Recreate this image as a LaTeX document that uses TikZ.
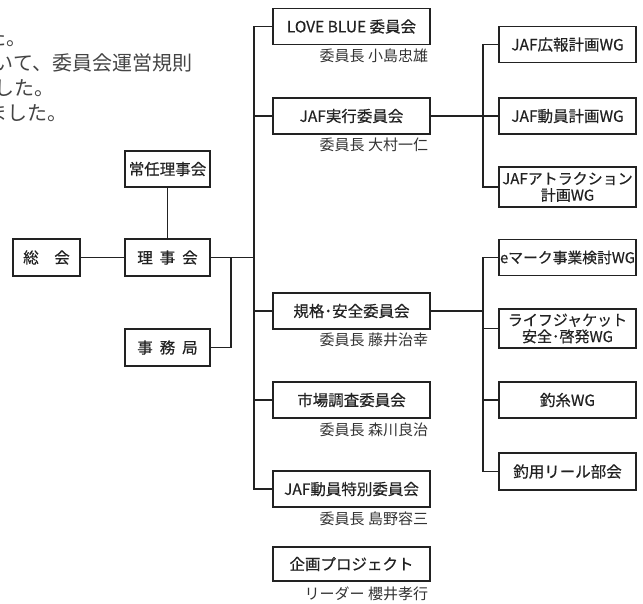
\documentclass[tikz,border=0pt]{standalone}
\usepackage{fontspec}
\setmainfont{Noto Sans CJK JP}
\newfontfamily\boxfont{Noto Sans CJK JP}[FakeBold=0.5]
\definecolor{ink}{HTML}{222222}
\definecolor{sub}{HTML}{333333}
\definecolor{para}{HTML}{444444}
\begin{document}
\begin{tikzpicture}[x=1pt,y=-1pt,line width=1.9pt,draw=ink,
  box/.style={draw,line width=1.9pt,minimum height=36pt,inner sep=0pt,align=center,
    text=ink,font=\boxfont\fontsize{15.5}{17}\selectfont},
  small/.style={box,minimum width=85pt},
  mid/.style={box,minimum width=157pt},
  wg/.style={box,minimum width=137pt},
  chief/.style={anchor=east,inner sep=0pt,text=sub,font=\fontsize{15}{17}\selectfont},
  note/.style={anchor=base east,inner sep=0pt,text=para,font=\fontsize{20}{24}\selectfont}]
\useasboundingbox (0,0) rectangle (643,603);
%text
\node[note] (n1) at (27,45) {た。};
\node[note] (n2) at (193,70) {いて、委員会運営規則};
\node[note] (n3) at (55,95) {ました。};
\node[note] (n4) at (68,120) {ました。};
%left
\node[box,minimum width=67pt,minimum height=37pt] (soukai) at (46.5,257.5) {総　会};
\node[small,minimum height=37pt] (rijikai) at (167.5,257.5) {理\hspace{.45em}事\hspace{.45em}会};
\node[small] (jonin) at (167.5,169) {常任理事会};
\node[small,minimum height=37pt] (jimu) at (167.5,347.5) {事\hspace{.45em}務\hspace{.45em}局};
%committees
\node[mid] (love) at (351.5,26.5) {LOVE BLUE 委員会};
\node[mid] (jafexec) at (351.5,116) {JAF実行委員会};
\node[mid] (kikaku) at (351.5,311) {規格･安全委員会};
\node[mid] (shijo) at (351.5,400) {市場調査委員会};
\node[mid] (tokubetsu) at (351.5,489) {JAF動員特別委員会};
\node[mid,minimum height=34pt] (kikaku2) at (351.5,564) {企画プロジェクト};
\node[chief] (c1) at ([xshift=-2pt,yshift=-10pt]love.south east) {委員長 小島忠雄};
\node[chief] (c2) at ([xshift=-2pt,yshift=-10pt]jafexec.south east) {委員長 大村一仁};
\node[chief] (c3) at ([xshift=-2pt,yshift=-10pt]kikaku.south east) {委員長 藤井治幸};
\node[chief] (c4) at ([xshift=-2pt,yshift=-11pt]shijo.south east) {委員長 森川良治};
\node[chief] (c5) at ([xshift=-2pt,yshift=-11pt]tokubetsu.south east) {委員長 島野容三};
\node[chief] (c6) at ([xshift=-2pt,yshift=-12pt]kikaku2.south east) {リーダー 櫻井孝行};
%working groups
\node[wg] (wgkoho) at (567.5,44.5) {JAF広報計画WG};
\node[wg] (wgdoin) at (567.5,116) {JAF動員計画WG};
\node[wg,minimum height=40pt,font=\boxfont\fontsize{15}{16.5}\selectfont] (wgattr) at (567.5,187) {JAFアトラクション\\計画WG};
\node[wg,font=\boxfont\fontsize{14.8}{16}\selectfont] (wgemark) at (567.5,257.5) {eマーク事業検討WG};
\node[wg,minimum height=39pt,font=\boxfont\fontsize{15}{16.5}\selectfont] (wglife) at (567.5,328.5) {ライフジャケット\\安全･啓発WG};
\node[wg] (wgito) at (567.5,400) {釣糸WG};
\node[wg,minimum height=37pt] (wgreel) at (567.5,471.5) {釣用リール部会};
%lines
\coordinate (trunk) at (254,0);
\coordinate (branch) at (231,257.5);
\coordinate (fork) at (483,0);
\draw (soukai) -- (rijikai);
\draw (jonin) -- (rijikai);
\draw (rijikai) -- (rijikai -| trunk);
\draw (branch) |- (jimu.east);
\draw (love.west) -| (trunk |- tokubetsu) -- (tokubetsu.west);
\foreach \n in {jafexec,kikaku,shijo}
  \draw (trunk |- \n) -- (\n.west);
\draw (jafexec) -- (wgdoin);
\draw (wgkoho.west) -| (fork |- wgattr) -- (wgattr.west);
\draw (kikaku) -- (kikaku -| fork);
\draw (wgemark.west) -| (fork |- wgreel) -- (wgreel.west);
\foreach \n in {wglife,wgito}
  \draw (fork |- \n) -- (\n.west);
\end{tikzpicture}
\end{document}
